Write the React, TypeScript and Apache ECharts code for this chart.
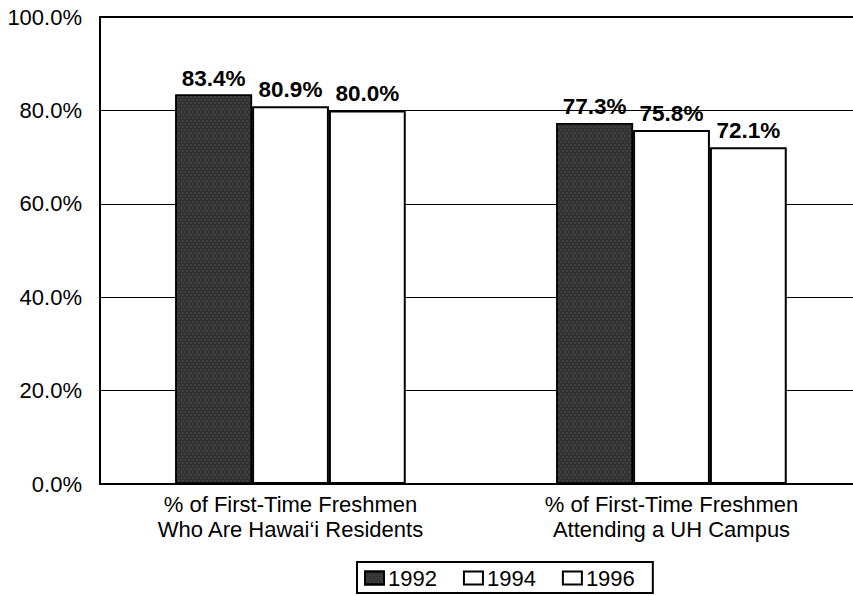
import React, { useEffect, useRef } from "react";
import * as echarts from "echarts";

const categories = [
  "% of First-Time Freshmen\nWho Are Hawai\u2018i Residents",
  "% of First-Time Freshmen\nAttending a UH Campus",
];
const seriesNames = ["1992", "1994", "1996"];
const values1992 = [83.4, 77.3];
const values1994 = [80.9, 75.8];
const values1996 = [80.0, 72.1];
const yTicks = [0, 20, 40, 60, 80, 100];

export default function App() {
  const ref = useRef<HTMLDivElement>(null);
  useEffect(() => {
    if (!ref.current) return;
    const chart = echarts.init(ref.current, undefined, { renderer: "svg" });
    const font = "Liberation Sans, Arial, sans-serif";
    const label = {
      show: true,
      position: "top" as const,
      distance: 5,
      fontFamily: font,
      fontWeight: "bold" as const,
      fontSize: 22.5,
      color: "#000",
      formatter: (p: any) => p.value.toFixed(1) + "%",
    };
    const dataSets = [values1992, values1994, values1996];
    const series = seriesNames.map((name, i) => ({
      name,
      type: "bar",
      data: dataSets[i],
      barGap: "0%",
      barCategoryGap: "39.5%",
      label,
      itemStyle:
        i === 0
          ? {
              color: "#333",
              borderColor: "#000",
              borderWidth: 1.5,
              decal: {
                symbol: "rect",
                symbolSize: 0.5,
                color: "rgba(140,140,140,0.5)",
                dashArrayX: [[2, 2], [0, 2, 2, 0]],
                dashArrayY: [2, 1],
                rotation: 0,
              },
            }
          : { color: "#fff", borderColor: "#000", borderWidth: 2 },
      z: 3,
    }));
    chart.setOption({
      animation: false,
      backgroundColor: "#fff",
      grid: { left: 100, top: 17, right: 0, bottom: 112, containLabel: false },
      xAxis: [
        {
          type: "category",
          data: categories,
          axisLine: { show: true, lineStyle: { color: "#000", width: 2 } },
          axisTick: { show: false },
          axisLabel: {
            fontFamily: font,
            fontSize: 22,
            color: "#000",
            lineHeight: 25,
            margin: 8,
            interval: 0,
          },
        },
        {
          type: "category",
          position: "top",
          data: categories,
          axisLine: { show: true, lineStyle: { color: "#000", width: 2 } },
          axisTick: { show: false },
          axisLabel: { show: false },
        },
      ],
      yAxis: {
        type: "value",
        min: yTicks[0],
        max: yTicks[yTicks.length - 1],
        interval: 20,
        axisLine: { show: true, lineStyle: { color: "#000", width: 2 } },
        axisTick: { show: false },
        splitLine: { show: true, lineStyle: { color: "#000", width: 1 } },
        axisLabel: {
          fontFamily: font,
          fontSize: 22,
          color: "#000",
          margin: 18,
          formatter: (v: number) => v.toFixed(1) + "%",
        },
      },
      legend: {
        data: seriesNames,
        top: 562,
        left: 357,
        icon: "rect",
        itemWidth: 19,
        itemHeight: 13,
        itemGap: 26,
        borderColor: "#000",
        borderWidth: 2,
        borderRadius: 0,
        padding: [5, 18, 4, 7],
        textStyle: { fontFamily: font, fontSize: 22, color: "#000", padding: [0, 0, 0, -1] },
      },
      series,
    });
    return () => chart.dispose();
  }, []);
  return (
    <div style={{ position: "absolute", left: 0, top: 0, width: 853, height: 596, overflow: "hidden" }}>
      <div ref={ref} style={{ width: 862, height: 596 }} />
    </div>
  );
}
